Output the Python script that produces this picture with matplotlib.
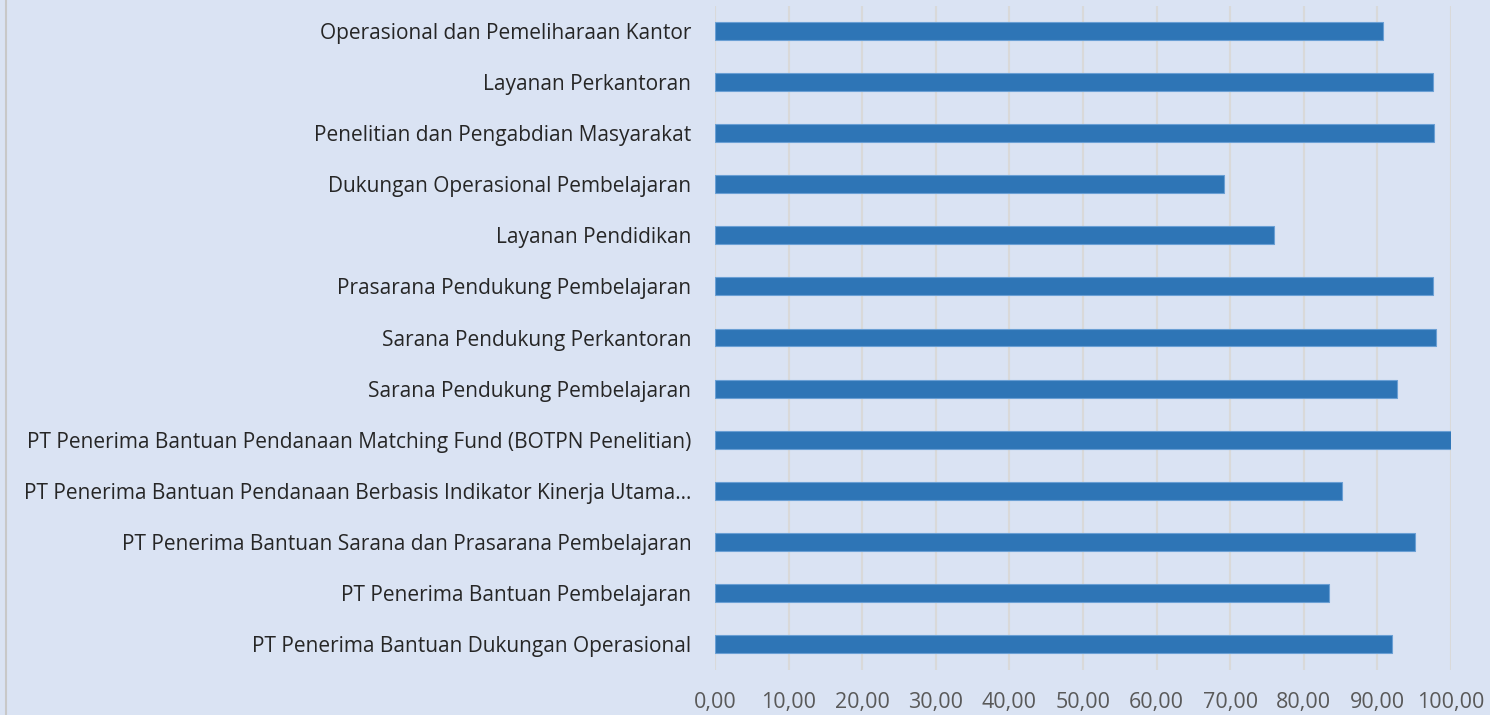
import matplotlib
matplotlib.use("Agg")
import matplotlib.pyplot as plt
from matplotlib.ticker import FuncFormatter
from matplotlib.lines import Line2D

# categories from top to bottom as shown in the chart
categories = [
    "Operasional dan Pemeliharaan Kantor",
    "Layanan Perkantoran",
    "Penelitian dan Pengabdian Masyarakat",
    "Dukungan Operasional Pembelajaran",
    "Layanan Pendidikan",
    "Prasarana Pendukung Pembelajaran",
    "Sarana Pendukung Perkantoran",
    "Sarana Pendukung Pembelajaran",
    "PT Penerima Bantuan Pendanaan Matching Fund (BOTPN Penelitian)",
    "PT Penerima Bantuan Pendanaan Berbasis Indikator Kinerja Utama\u2026",
    "PT Penerima Bantuan Sarana dan Prasarana Pembelajaran",
    "PT Penerima Bantuan Pembelajaran",
    "PT Penerima Bantuan Dukungan Operasional",
]
values = [90.7, 97.55, 97.7, 69.2, 75.9, 97.6, 98.0, 92.6, 100.0, 85.2, 95.1, 83.4, 92.0]
xticks = [0, 10, 20, 30, 40, 50, 60, 70, 80, 90, 100]

bg = "#DAE3F3"
plt.rcParams['font.family'] = ['Open Sans', 'DejaVu Sans']

fig = plt.figure(figsize=(14.9, 7.15), dpi=100, facecolor=bg)
ax = fig.add_axes([715 / 1490, 1 - 669.5 / 715, (1451 - 715) / 1490, (669.5 - 5.5) / 715])
ax.set_facecolor(bg)

pos = list(range(len(categories)))
ax.barh(pos, values, height=0.35, color="#2E75B6", edgecolor="#6A9FD4", linewidth=0.8, zorder=3)

ax.set_ylim(len(categories) - 0.5, -0.5)
ax.set_xlim(0, 100)
ax.set_yticks(pos)
ax.set_yticklabels(categories, fontsize=15, color="#262626")
ax.set_xticks(xticks)
ax.xaxis.set_major_formatter(FuncFormatter(lambda v, p: f"{v:.2f}".replace(".", ",")))
ax.tick_params(axis="x", labelsize=15.5, labelcolor="#595959", length=0, pad=16)
ax.tick_params(axis="y", length=0, pad=17)

ax.grid(axis="x", color="#D9D9D9", linewidth=1.5, zorder=0)
ax.set_axisbelow(True)
for s in ax.spines.values():
    s.set_visible(False)

# thin chart border on the left edge
fig.add_artist(Line2D([6.5 / 1490, 6.5 / 1490], [0, 1], transform=fig.transFigure,
                      color="#C8C8C8", linewidth=1.5))

fig.savefig("out.png", dpi=100, facecolor=bg)
